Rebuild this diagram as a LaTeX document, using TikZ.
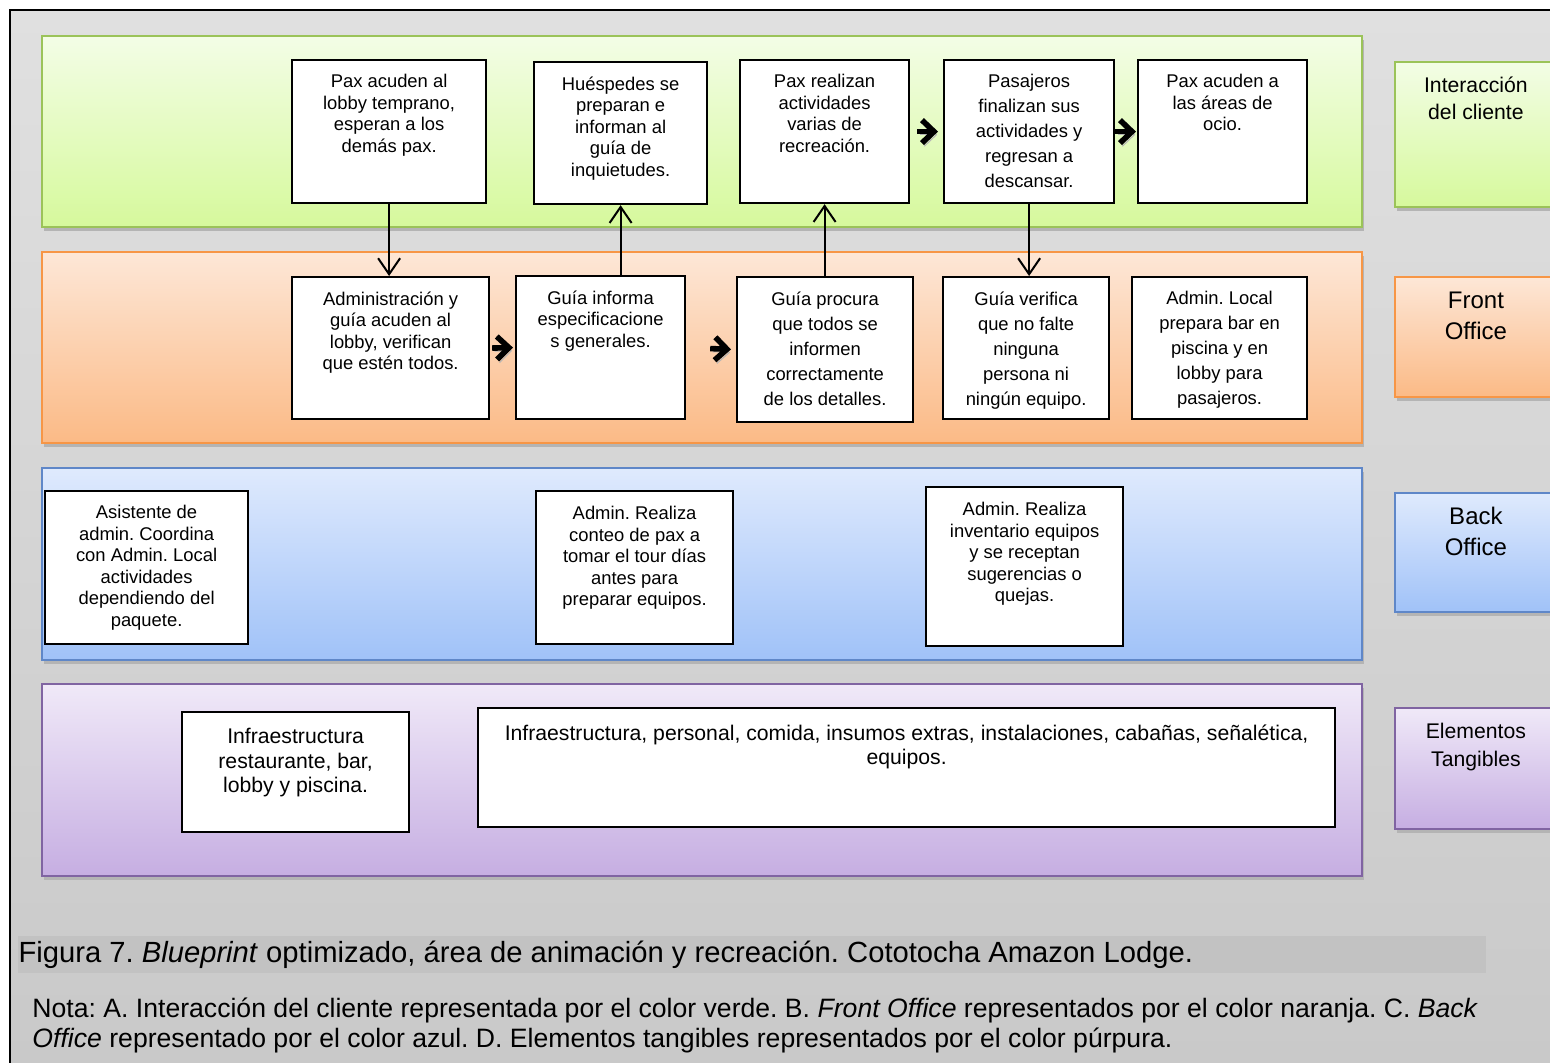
\documentclass[tikz,border=0pt]{standalone}
\usepackage{fontspec}
\setmainfont{Liberation Sans}
\usetikzlibrary{arrows.meta,positioning,shadows}
\frenchspacing

\definecolor{fondoA}{RGB}{224,224,224}
\definecolor{fondoB}{RGB}{201,201,201}
\definecolor{verdeA}{RGB}{243,253,230}
\definecolor{verdeB}{RGB}{214,249,156}
\definecolor{verdeL}{RGB}{155,195,89}
\definecolor{narA}{RGB}{253,231,215}
\definecolor{narB}{RGB}{251,186,134}
\definecolor{narL}{RGB}{247,150,70}
\definecolor{azulA}{RGB}{223,234,253}
\definecolor{azulB}{RGB}{160,194,248}
\definecolor{azulL}{RGB}{95,135,200}
\definecolor{purA}{RGB}{240,233,248}
\definecolor{purB}{RGB}{198,174,226}
\definecolor{purL}{RGB}{128,100,162}
\definecolor{sombra}{RGB}{180,180,180}
\definecolor{banda}{RGB}{194,194,194}

\begin{document}
\begin{tikzpicture}[x=0.5pt,y=-0.5pt,line width=.5pt,
  caja/.style={draw,line width=1.1pt,fill=white,anchor=north west,inner sep=0pt},
  txt/.style={anchor=north,align=center,inner sep=0pt,font=\fontsize{9.2}{10.75}\selectfont},
  txtl/.style={txt,font=\fontsize{9.2}{12.5}\selectfont},
  txtd/.style={txt,font=\fontsize{10.6}{12.25}\selectfont},
  flecha/.style={line width=1pt,-{Straight Barb[length=8pt,width=11pt]}},
  chev/.style={line width=2.8pt,-{Straight Barb[length=6pt,width=11.5pt]},
    preaction={draw=sombra,transform canvas={shift={(1.2pt,-1.6pt)}}}},
  carril/.style={line width=.9pt,drop shadow={shadow xshift=1pt,shadow yshift=-2pt,fill=sombra,opacity=1}},
  rotulo/.style={anchor=north west,inner sep=0pt,line width=.9pt,minimum width=81pt,
    drop shadow={shadow xshift=1pt,shadow yshift=-2pt,fill=sombra,opacity=1}}]
\useasboundingbox (0,0) rectangle (1550,1063);

% fondo y marco
\shade[top color=fondoA,bottom color=fondoB] (10,10) rectangle (1550,1063);
\draw[line width=1.1pt] (1550,10) -- (10,10) -- (10,1063);

% carriles
\shade[carril,top color=verdeA,bottom color=verdeB,draw=verdeL] (42,36) rectangle (1362,227);
\shade[carril,top color=narA,bottom color=narB,draw=narL] (42,252) rectangle (1362,443);
\shade[carril,top color=azulA,bottom color=azulB,draw=azulL] (42,468) rectangle (1362,660);
\shade[carril,top color=purA,bottom color=purB,draw=purL] (42,684) rectangle (1362,876);

% rotulos de los carriles
\node[rotulo,top color=verdeA,bottom color=verdeB,draw=verdeL,minimum height=72.5pt] (rint) at (1394,61) {};
\node[txt,font=\fontsize{10.6}{13.5}\selectfont,below=7.5pt of rint.north] (rintt) {Interacción\\del cliente};
\node[rotulo,top color=narA,bottom color=narB,draw=narL,minimum height=60pt] (rfront) at (1394,276) {};
\node[txt,font=\fontsize{12}{15.5}\selectfont,below=7.5pt of rfront.north] (rfrontt) {Front\\Office};
\node[rotulo,top color=azulA,bottom color=azulB,draw=azulL,minimum height=59.5pt] (rback) at (1394,492) {};
\node[txt,font=\fontsize{12}{15.5}\selectfont,below=7.5pt of rback.north] (rbackt) {Back\\Office};
\node[rotulo,top color=purA,bottom color=purB,draw=purL,minimum height=60.5pt] (rtang) at (1394,707) {};
\node[txt,font=\fontsize{10.6}{14}\selectfont,below=8pt of rtang.north] (rtangt) {Elementos\\Tangibles};

% interaccion del cliente
\node[caja,minimum width=97pt,minimum height=71.5pt] (a1) at (291,59) {};
\node[txt,below=7.5pt of a1.north] (a1t) {Pax acuden al\\lobby temprano,\\esperan a los\\demás pax.};
\node[caja,minimum width=86.5pt,minimum height=71pt] (a2) at (533,61) {};
\node[txt,below=7.5pt of a2.north] (a2t) {Huéspedes se\\preparan e\\informan al\\guía de\\inquietudes.};
\node[caja,minimum width=84.5pt,minimum height=71.5pt] (a3) at (739,59) {};
\node[txt,below=7.5pt of a3.north] (a3t) {Pax realizan\\actividades\\varias de\\recreación.};
\node[caja,minimum width=85pt,minimum height=71.5pt] (a4) at (943,59) {};
\node[txtl,below=7.5pt of a4.north] (a4t) {Pasajeros\\finalizan sus\\actividades y\\regresan a\\descansar.};
\node[caja,minimum width=84.5pt,minimum height=71.5pt] (a5) at (1137,59) {};
\node[txt,below=7.5pt of a5.north] (a5t) {Pax acuden a\\las áreas de\\ocio.};

% front office
\node[caja,minimum width=98.5pt,minimum height=71pt] (b1) at (291,276) {};
\node[txt,below=7.5pt of b1.north] (b1t) {Administración y\\guía acuden al\\lobby, verifican\\que estén todos.};
\node[caja,minimum width=84.5pt,minimum height=71.5pt] (b2) at (515,275) {};
\node[txt,below=7.5pt of b2.north] (b2t) {Guía informa\\especificacione\\s generales.};
\node[caja,minimum width=88pt,minimum height=72.5pt] (b3) at (736,276) {};
\node[txtl,below=7.5pt of b3.north] (b3t) {Guía procura\\que todos se\\informen\\correctamente\\de los detalles.};
\node[caja,minimum width=83pt,minimum height=71pt] (b4) at (942,276) {};
\node[txtl,below=7.5pt of b4.north] (b4t) {Guía verifica\\que no falte\\ninguna\\persona ni\\ningún equipo.};
\node[caja,minimum width=87.5pt,minimum height=71pt] (b5) at (1131,276) {};
\node[txtl,below=7.5pt of b5.north] (b5t) {Admin. Local\\prepara bar en\\piscina y en\\lobby para\\pasajeros.};

% back office
\node[caja,minimum width=101.5pt,minimum height=76.5pt] (c1) at (44,490) {};
\node[txt,below=7.5pt of c1.north] (c1t) {Asistente de\\admin. Coordina\\con Admin. Local\\actividades\\dependiendo del\\paquete.};
\node[caja,minimum width=98.5pt,minimum height=76.5pt] (c2) at (535,490) {};
\node[txt,below=8pt of c2.north] (c2t) {Admin. Realiza\\conteo de pax a\\tomar el tour días\\antes para\\preparar equipos.};
\node[caja,minimum width=98.5pt,minimum height=79.5pt] (c3) at (925,486) {};
\node[txt,below=8pt of c3.north] (c3t) {Admin. Realiza\\inventario equipos\\y se receptan\\sugerencias o\\quejas.};

% elementos tangibles
\node[caja,minimum width=113.5pt,minimum height=60pt] (d1) at (181,711) {};
\node[txtd,below=8.5pt of d1.north] (d1t) {Infraestructura\\restaurante, bar,\\lobby y piscina.};
\node[caja,minimum width=428.5pt,minimum height=59.5pt] (d2) at (477,707) {};
\node[txtd,below=8.5pt of d2.north] (d2t) {Infraestructura, personal, comida, insumos extras, instalaciones, cabañas, señalética,\\equipos.};

% conectores
\draw[flecha] (a1.south) -- (a1.south |- b1.north);
\draw[flecha] (a2.south |- b2.north) -- (a2.south);
\draw[flecha] (a3.south |- b3.north) -- (a3.south);
\draw[flecha] (a4.south) -- (a4.south |- b4.north);
\draw[chev,shorten <=3.5pt,shorten >=2.5pt] (a3.east) -- (a4.west);
\draw[chev,shorten >=0.5pt] (a4.east) -- (a5.west);
\draw[chev,shorten <=1pt,shorten >=1pt] (b1.east) -- (b2.west);
\draw[chev,shorten <=12pt,shorten >=2.5pt] (b2.east) -- (b3.west);

% pie de figura
\fill[banda] (18,936) rectangle (1486,973);
\node[anchor=west,inner sep=0pt,font=\fontsize{14.6}{17}\selectfont] (fig) at (18,955) {Figura 7. \textit{Blueprint} optimizado, área de animación y recreación. Cototocha Amazon Lodge.};
\node[anchor=north west,inner sep=0pt,align=left,font=\fontsize{13.3}{15}\selectfont] (nota) at (32,997) {Nota: A. Interacción del cliente representada por el color verde. B. \textit{Front Office} representados por el color naranja. C. \textit{Back}\\\textit{Office} representado por el color azul. D. Elementos tangibles representados por el color púrpura.};
\end{tikzpicture}
\end{document}
